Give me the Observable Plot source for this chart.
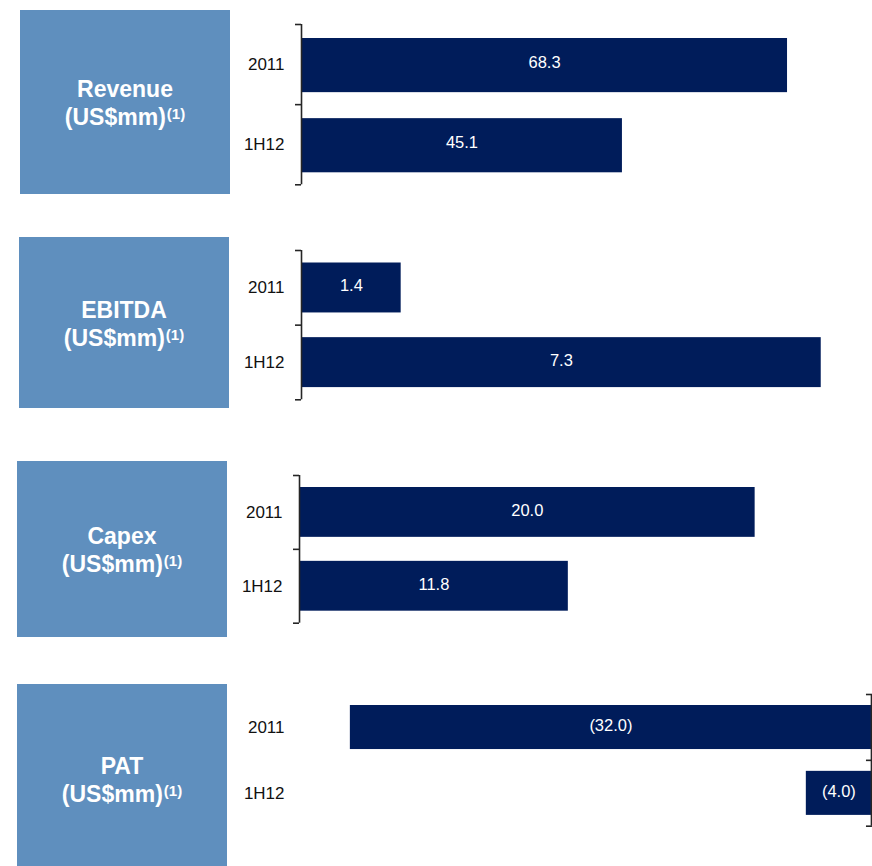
<!DOCTYPE html>
<html>
<head>
<meta charset="utf-8">
<script src="https://cdn.jsdelivr.net/npm/d3@7"></script>
<script src="https://cdn.jsdelivr.net/npm/@observablehq/plot@0.6"></script>
<style>
  html, body { margin: 0; padding: 0; background: #fff; width: 872px; height: 866px; overflow: hidden; }
  #root { position: relative; width: 872px; height: 866px; font-family: "Liberation Sans", Arial, sans-serif; }
  .panel { position: absolute; left: 0; width: 872px; }
  .box { position: absolute; z-index: 2; background: #5f8fbe; color: #fff; font-weight: bold; font-size: 23px;
         line-height: 28px; display: flex; flex-direction: column; justify-content: center; align-items: center;
         text-align: center; box-sizing: border-box; padding-top: 2px; }
  .box sup { font-size: 15px; line-height: 0; vertical-align: 6px; margin-left: 1px; }
</style>
</head>
<body>
<div id="root"></div>
<script>
// ---- data ----
const categories = ["2011", "1H12"];
const metrics = ["Revenue", "EBITDA", "Capex", "PAT"];
const unitLabel = "(US$mm)";
const noteMark = "(1)";
const revenue = [68.3, 45.1];
const ebitda = [1.4, 7.3];
const capex = [20.0, 11.8];
const pat = [-32.0, -4.0];

// ---- layout / styling ----
const barColor = "#001c5a";
const axisColor = "#262626";
const fontFamily = '"Liberation Sans", Arial, sans-serif';
const fmt = v => v < 0 ? `(${Math.abs(v).toFixed(1)})` : v.toFixed(1);

const panels = [
  {values: revenue, metric: metrics[0], box: [20, 10, 210, 184], top: 14, span: 160.3, left: 301, right: 0, domain: [0, 80.24], insetTop: 14, insetBottom: 12, side: "left"},
  {values: ebitda,  metric: metrics[1], box: [19, 237, 210, 171], top: 239.7, span: 149.3, left: 301, right: 0, domain: [0, 8.02], insetTop: 12.5, insetBottom: 12.2, side: "left"},
  {values: capex,   metric: metrics[2], box: [17, 461, 210, 176], top: 465, span: 147.7, left: 299, right: 0, domain: [0, 25.15], insetTop: 12, insetBottom: 12, side: "left"},
  {values: pat,     metric: metrics[3], box: [17, 684, 210, 190], top: 684, span: 131.7, left: 301, right: 1, domain: [-35, 0], insetTop: 11, insetBottom: 10.8, side: "right"}
];

const root = document.getElementById("root");
const n = categories.length;

for (const p of panels) {
  const rows = categories.map((c, i) => ({category: c, i, value: p.values[i]}));
  const svg = Plot.plot({
    width: 872,
    height: p.span + 20,
    marginTop: 10,
    marginBottom: 10,
    marginLeft: p.left,
    marginRight: p.right,
    style: {background: "transparent", fontFamily, color: "#111", overflow: "visible"},
    x: {domain: p.domain, axis: null},
    y: {domain: [0, n], reverse: true, label: null},
    marks: [
      Plot.rect(rows, {x1: 0, x2: "value", y1: "i", y2: d => d.i + 1,
        insetTop: p.insetTop, insetBottom: p.insetBottom, fill: barColor}),
      Plot.text(rows, {x: d => d.value / 2, y: d => d.i + 0.5, text: d => fmt(d.value),
        fill: "white", fontSize: 16.5, dy: -2}),
      Plot.ruleX([0], {y1: 0, y2: n, stroke: axisColor, strokeWidth: 1.6}),
      Plot.axisY({anchor: p.side, ticks: d3.range(n + 1), tickSize: 6,
        dx: p.side === "right" ? -6 : 0, tickFormat: () => "",
        stroke: axisColor, strokeWidth: 1.6, label: null}),
      Plot.axisY({anchor: "left", ticks: categories.map((c, i) => i + 0.5),
        tickFormat: d => categories[Math.floor(d)], tickSize: 0, tickPadding: 17,
        fontSize: 17, label: null})
    ]
  });
  const wrap = document.createElement("div");
  wrap.className = "panel";
  wrap.style.top = p.top + "px";
  wrap.appendChild(svg);
  root.appendChild(wrap);

  const [bx, by, bw, bh] = p.box;
  const box = document.createElement("div");
  box.className = "box";
  Object.assign(box.style, {left: bx + "px", top: by + "px", width: bw + "px", height: bh + "px"});
  const l1 = document.createElement("div");
  l1.textContent = p.metric;
  const l2 = document.createElement("div");
  l2.textContent = unitLabel;
  const sup = document.createElement("sup");
  sup.textContent = noteMark;
  l2.appendChild(sup);
  box.appendChild(l1);
  box.appendChild(l2);
  root.appendChild(box);
}
</script>
</body>
</html>
